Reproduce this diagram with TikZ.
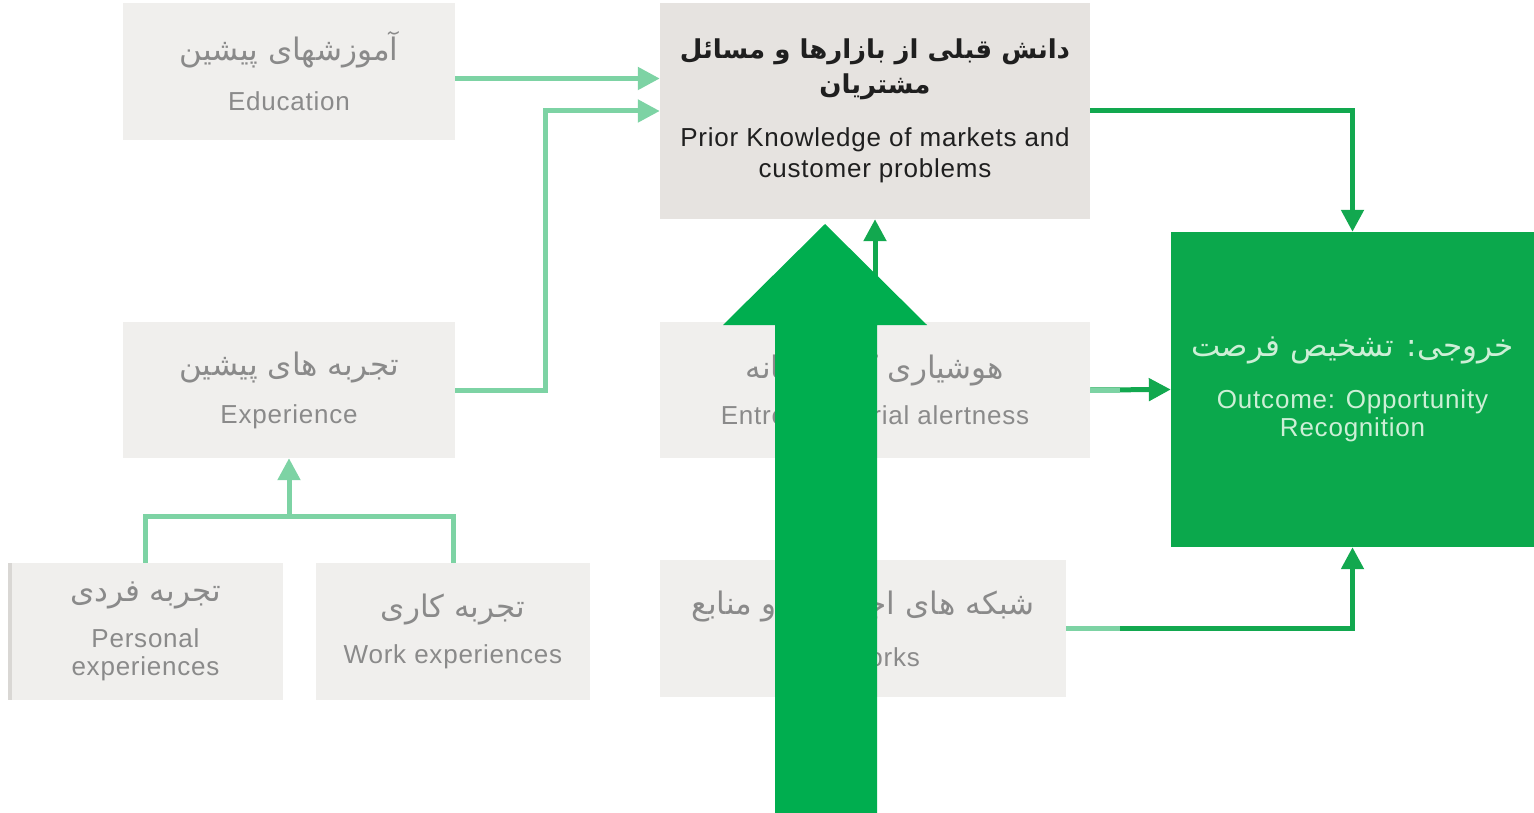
\documentclass[tikz,border=0pt]{standalone}
\usepackage{fontspec}
\usepackage{xcolor}
\usepackage{tikz}
\usetikzlibrary{arrows.meta}
\setmainfont[LetterSpace=3]{Liberation Sans}
\newfontfamily\farsi[Script=Arabic]{DejaVu Sans}
\TeXXeTstate=1
\definecolor{boxgray}{HTML}{F0EFED}
\definecolor{priorgray}{HTML}{E6E3E0}
\definecolor{edgegray}{HTML}{D9D7D4}
\definecolor{textgray}{HTML}{8A8A8A}
\definecolor{lightgreen}{HTML}{7DD3A4}
\definecolor{darkgreen}{HTML}{12A84F}
\definecolor{outgreen}{HTML}{0BA84C}
\definecolor{outtext}{HTML}{CDEFD6}
\definecolor{bigarrow}{HTML}{00AE4F}
\newcommand{\fa}[1]{{\farsi\fontsize{31}{34}\selectfont\beginR #1\endR}}
\newcommand{\fabold}[1]{{\farsi\bfseries\fontsize{26}{34}\selectfont\beginR #1\endR}}

\begin{document}
\begin{tikzpicture}[x=1pt, y=-1pt,
    box/.style={fill=boxgray, inner sep=0pt, align=center, text=textgray,
        font=\fontsize{26}{28}\selectfont},
    lightline/.style={draw=lightgreen, line width=5pt},
    lightarrow/.style={lightline, -{Triangle[length=22pt,width=22pt]}},
    darkarrow/.style={draw=darkgreen, line width=5pt, -{Triangle[length=22pt,width=22pt]}}]
    \useasboundingbox (0,0) rectangle (1534,813);

    % Boites
    \node[box, minimum width=332pt, minimum height=137pt] (edu) at (289,71.5)
        {\fa{آموزشهای پیشین}\\[22pt] Education};
    \node[box, fill=priorgray, text=black!88, minimum width=430pt, minimum height=216pt,
        font=\fontsize{26}{31}\selectfont] (prior) at (875,111)
        {\fabold{دانش قبلی از بازارها و مسائل}\\[4pt] \fabold{مشتریان}\\[22pt]
         Prior Knowledge of markets and\\ customer problems};
    \node[box, minimum width=332pt, minimum height=136pt] (exper) at (289,390)
        {\fa{تجربه های پیشین}\\[20pt] Experience};
    \node[box, minimum width=275pt, minimum height=137pt] (pers) at (145.5,631.5)
        {\fa{تجربه فردی}\\[18pt] Personal\\ experiences};
    \node[box, minimum width=274pt, minimum height=137pt] (work) at (453,631.5)
        {\fa{تجربه کاری}\\[18pt] Work experiences};
    \node[box, minimum width=430pt, minimum height=136pt] (alert) at (875,390)
        {\fa{هوشیاری کارآفرینانه}\\[18pt] Entrepreneurial alertness};
    \node[box, minimum width=406pt, minimum height=137pt] (netw) at (863,628.5)
        {\fa{شبکه های اجتماعی و منابع}\\[24pt] Networks};
    \node[box, fill=outgreen, text=outtext, minimum width=363pt, minimum height=315pt] (outc) at (1352.5,389.5)
        {\fa{خروجی: تشخیص فرصت}\\[24pt] Outcome: Opportunity\\ Recognition};

    % Bord gauche de la boite Personal
    \fill[edgegray] (pers.north west) rectangle ([xshift=4pt]pers.south west);

    % Fleches claires
    \draw[lightarrow] ([yshift=-7pt]edu.east) -- ([yshift=-7pt]edu.east -| prior.west);
    \draw[lightarrow] (exper.east) -- ++(90,0) |- (prior.west);
    \coordinate (join) at (289,516);
    \draw[lightline] (pers.north) |- (join) -| (work.north);
    \draw[lightarrow] (join) -- (exper.south);

    % Fleches foncees
    \draw[darkarrow] (prior.east) -| (outc.north);
    \draw[darkarrow] (alert.north) -- (prior.south);
    \draw[darkarrow] (alert.east) -- (outc.west);
    \draw[darkarrow] (netw.east) -| (outc.south);
    \draw[lightline] (alert.east) -- ++(30,0);
    \draw[lightline] (netw.east) -- ++(54,0);

    % Grande fleche verte
    \fill[bigarrow] (775,813) -- (775,325) -- (723,325) -- (825,224)
        -- (927,325) -- (877,325) -- (877,813) -- cycle;
\end{tikzpicture}
\end{document}
